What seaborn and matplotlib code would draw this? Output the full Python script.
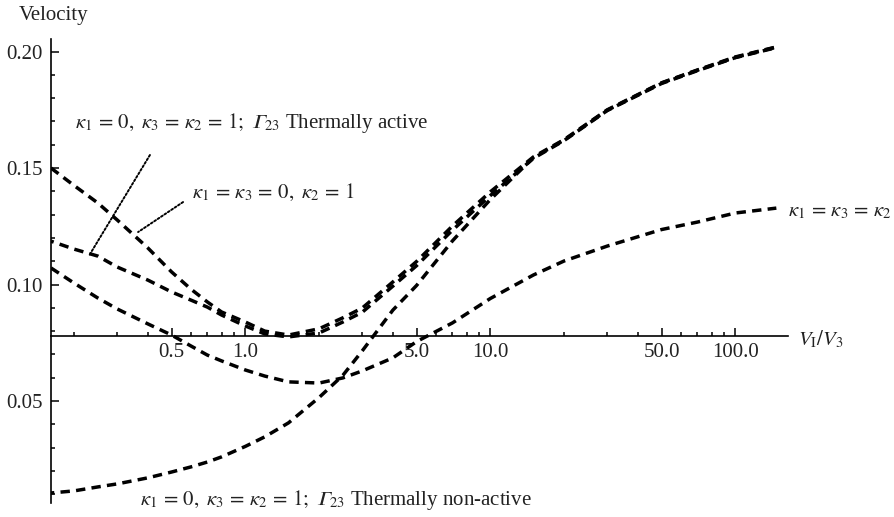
import numpy as np
import pandas as pd
import matplotlib
matplotlib.use("Agg")
import matplotlib.pyplot as plt
import matplotlib.ticker as mticker
import seaborn as sns

# ---- data ----
ratio = [0.161, 0.2, 0.25, 0.3, 0.4, 0.5, 0.6, 0.7, 0.8, 1.0, 1.2, 1.5, 2.0, 2.5,
         3.0, 4.0, 5.0, 7.0, 10.0, 15.0, 20.0, 30.0, 50.0, 70.0, 100.0, 147.0]

vel_k13_0_k2_1 = [0.150, 0.1425, 0.135, 0.1277, 0.1157, 0.1054, 0.0980, 0.0925, 0.0882,
                  0.0839, 0.0800, 0.0783, 0.0810, 0.0857, 0.0899, 0.1011, 0.1099, 0.1251,
                  0.1398, 0.1548, 0.1622, 0.1750, 0.1866, 0.1921, 0.1977, 0.2020]
vel_active = [0.1186, 0.1152, 0.1122, 0.1075, 0.1019, 0.0968, 0.0933, 0.0903, 0.0869,
              0.0822, 0.0788, 0.0775, 0.0792, 0.0839, 0.0881, 0.0993, 0.1081, 0.1233,
              0.1382, 0.1542, 0.1618, 0.1747, 0.1863, 0.1918, 0.1974, 0.2017]
vel_all_equal = [0.1071, 0.1006, 0.0942, 0.0895, 0.0831, 0.0783, 0.0736, 0.0697, 0.0672,
                 0.0633, 0.0607, 0.0582, 0.0577, 0.0599, 0.0629, 0.0685, 0.0755, 0.0835,
                 0.0940, 0.1041, 0.1101, 0.1165, 0.1236, 0.1268, 0.1307, 0.1328]
vel_nonactive = [0.0105, 0.0114, 0.0131, 0.0144, 0.0170, 0.0195, 0.0217, 0.0238, 0.0260,
                 0.0305, 0.0346, 0.0406, 0.0515, 0.0610, 0.0715, 0.0890, 0.0996, 0.1187,
                 0.1365, 0.1545, 0.1620, 0.1748, 0.1865, 0.1920, 0.1975, 0.2019]

x_major = [0.5, 1.0, 5.0, 10.0, 50.0, 100.0]
x_major_labels = ["0.5", "1.0", "5.0", "10.0", "50.0", "100.0"]
x_minor = [0.2, 0.3, 0.4, 0.6, 0.7, 0.8, 0.9, 2, 3, 4, 6, 7, 8, 9,
           20, 30, 40, 60, 70, 80, 90]
y_major = [0.05, 0.10, 0.15, 0.20]
y_major_labels = ["0.05", "0.10", "0.15", "0.20"]
y_minor = [0.01, 0.02, 0.03, 0.04, 0.06, 0.07, 0.08, 0.09, 0.11, 0.12, 0.13, 0.14,
           0.16, 0.17, 0.18, 0.19]

EQ = r"\,=\,"
lbl_active = (r"$\kappa_1" + EQ + r"0,\ \kappa_3" + EQ + r"\kappa_2" + EQ
              + r"1;\ 𝛤_{23}$ Thermally active")
lbl_k13 = r"$\kappa_1" + EQ + r"\kappa_3" + EQ + r"0,\ \kappa_2" + EQ + r"1$"
lbl_equal = r"$\kappa_1" + EQ + r"\kappa_3" + EQ + r"\kappa_2$"
lbl_nonactive = (r"$\kappa_1" + EQ + r"0,\ \kappa_3" + EQ + r"\kappa_2" + EQ
                 + r"1;\ 𝛤_{23}$ Thermally non-active")
x_title = r"$V_{\mathrm{I}}/V_3$"
y_title = "Velocity"

# ---- styling ----
sns.set_style("white")
plt.rcParams["font.family"] = ["Liberation Serif", "DejaVu Serif"]
plt.rcParams["mathtext.fontset"] = "stix"
FS = 15
TXT = "#222222"
LW = 2.5
ON, OFF = 2.7, 1.8

df = pd.DataFrame({
    "ratio": ratio * 4,
    "velocity": vel_k13_0_k2_1 + vel_active + vel_all_equal + vel_nonactive,
    "curve": (["k13"] * len(ratio) + ["active"] * len(ratio)
              + ["equal"] * len(ratio) + ["nonactive"] * len(ratio)),
})
order = ["k13", "active", "equal", "nonactive"]

fig = plt.figure(figsize=(8.94, 5.17), dpi=100)
ax = fig.add_axes([51 / 894, 14 / 517, 737 / 894, 464 / 517])

for name in order:
    sub = df[df["curve"] == name]
    sns.lineplot(data=sub, x="ratio", y="velocity", ax=ax, color="black",
                 lw=LW, linestyle=(0, (ON, OFF)), sort=False, estimator=None,
                 dash_capstyle="butt")

ax.set_xscale("log")
ax.set_xlim(0.161, 164)
ax.set_ylim(0.0062, 0.2054)

# align dash phases where curves run together (as in the reference)
def path_len_pt(vals, upto):
    pts = ax.transData.transform(np.column_stack([ratio[:upto + 1], vals[:upto + 1]]))
    return np.sum(np.hypot(*np.diff(pts, axis=0).T)) * 72.0 / fig.dpi

period = (ON + OFF) * LW
lines = ax.get_lines()
L_a12 = path_len_pt(vel_k13_0_k2_1, 12)
L_b12 = path_len_pt(vel_active, 12)
L_a19 = path_len_pt(vel_k13_0_k2_1, 19)
L_d19 = path_len_pt(vel_nonactive, 19)
off_b = ((L_a12 - L_b12) % period) / LW
off_d = ((L_a19 - L_d19) % period) / LW
lines[1].set_linestyle((off_b, (ON, OFF)))
lines[3].set_linestyle((off_d, (ON, OFF)))

for s in ["top", "right"]:
    ax.spines[s].set_visible(False)
ax.spines["bottom"].set_position(("data", 0.078))
ax.spines["left"].set_position(("data", 0.161))
for s in ["left", "bottom"]:
    ax.spines[s].set_linewidth(1.2)
    ax.spines[s].set_color("black")

ax.xaxis.set_major_locator(mticker.FixedLocator(x_major))
ax.xaxis.set_major_formatter(mticker.FixedFormatter(x_major_labels))
ax.xaxis.set_minor_locator(mticker.FixedLocator(x_minor))
ax.xaxis.set_minor_formatter(mticker.NullFormatter())
ax.yaxis.set_major_locator(mticker.FixedLocator(y_major))
ax.yaxis.set_major_formatter(mticker.FixedFormatter(y_major_labels))
ax.yaxis.set_minor_locator(mticker.FixedLocator(y_minor))
ax.yaxis.set_minor_formatter(mticker.NullFormatter())

ax.tick_params(which="both", bottom=True, left=True, top=False, right=False)
ax.tick_params(which="major", direction="in", length=6, width=1.1, color="black",
               labelsize=FS, labelcolor=TXT)
ax.tick_params(which="minor", direction="in", length=3, width=1.1, color="black")
ax.tick_params(axis="x", which="major", pad=5)
ax.tick_params(axis="y", which="major", pad=6)
ax.set_xlabel("")
ax.set_ylabel("")
ax.grid(False)

# axis titles
ax.annotate(x_title, xy=(1, 0.078), xycoords=("axes fraction", "data"),
            xytext=(7, -3), textcoords="offset points", ha="left", va="center",
            fontsize=FS, color=TXT)
ax.annotate(y_title, xy=(0, 1), xycoords="axes fraction", xytext=(2, 17),
            textcoords="offset points", ha="center", va="center",
            fontsize=FS, color=TXT)

# curve labels with dotted pointers
lx = np.log10(ratio)
pt_active_x = 0.23
pt_active_y = np.interp(np.log10(pt_active_x), lx, vel_active) - 0.001
pt_k13_x = 0.365
pt_k13_y = np.interp(np.log10(pt_k13_x), lx, vel_k13_0_k2_1) + 0.003

for xy, xyt in [((pt_active_x, pt_active_y), (0.408, 0.1556)),
                ((pt_k13_x, pt_k13_y), (0.557, 0.1354))]:
    ax.annotate("", xy=xy, xytext=xyt,
                arrowprops=dict(arrowstyle="-", linestyle=(0, (1, 1.1)), lw=1.4,
                                color="black", shrinkA=0, shrinkB=0))

ax.text(0.2018, 0.1693, lbl_active, fontsize=FS, ha="left", va="center", color=TXT)
ax.text(0.606, 0.1393, lbl_k13, fontsize=FS, ha="left", va="center", color=TXT)
ax.text(164, 0.1311, lbl_equal, fontsize=FS, ha="left", va="center", color=TXT,
        clip_on=False)
ax.text(0.372, 0.0075, lbl_nonactive, fontsize=FS, ha="left", va="center", color=TXT)

fig.savefig("out.png", dpi=100)
